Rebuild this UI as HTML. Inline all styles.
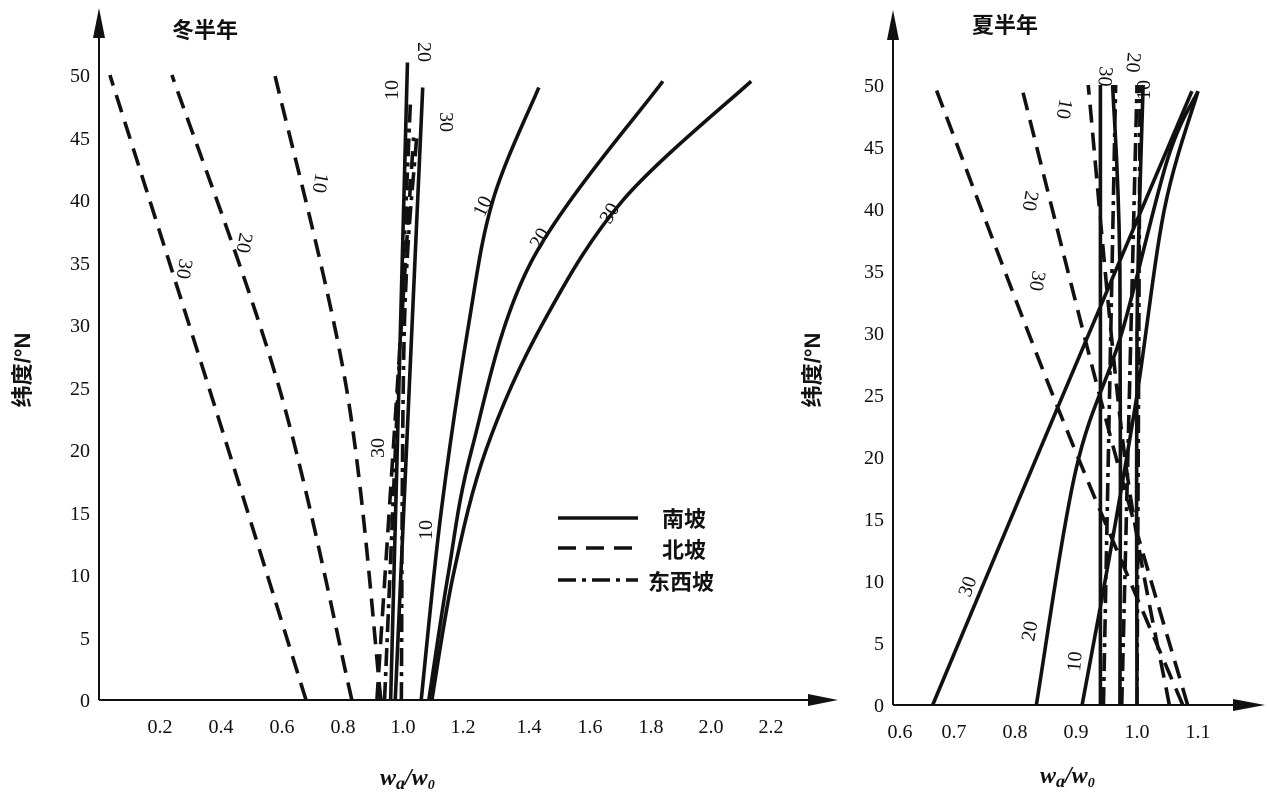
<!DOCTYPE html>
<html><head><meta charset="utf-8"><style>
body{margin:0;background:#fff}
svg{display:block}
text{font-family:"Liberation Serif","Noto Serif CJK SC",serif;fill:#111}
.t{font-size:20px}
.c{font-family:"Liberation Sans","Noto Sans CJK SC",sans-serif;font-weight:bold}
</style></head><body>
<svg id="s" width="1267" height="795" viewBox="0 0 1267 795" xmlns="http://www.w3.org/2000/svg">
<g id="g" fill="none" stroke="#111" stroke-width="3.6"></g>
<line x1="99" y1="700" x2="820" y2="700" stroke="#111" stroke-width="2"/>
<polygon points="838,700 808,694 808,706" fill="#111"/>
<line x1="99" y1="700" x2="99" y2="25" stroke="#111" stroke-width="2"/>
<polygon points="99,8 93,38 105,38" fill="#111"/>
<g class="t" text-anchor="end">
<text x="90" y="707">0</text><text x="90" y="645">5</text><text x="90" y="582">10</text><text x="90" y="520">15</text><text x="90" y="457">20</text><text x="90" y="395">25</text><text x="90" y="332">30</text><text x="90" y="270">35</text><text x="90" y="207">40</text><text x="90" y="145">45</text><text x="90" y="82">50</text>
</g>
<g class="t" text-anchor="middle">
<text x="160" y="733">0.2</text><text x="221" y="733">0.4</text><text x="282" y="733">0.6</text><text x="343" y="733">0.8</text><text x="403" y="733">1.0</text><text x="463" y="733">1.2</text><text x="529" y="733">1.4</text><text x="590" y="733">1.6</text><text x="651" y="733">1.8</text><text x="711" y="733">2.0</text><text x="771" y="733">2.2</text>
</g>
<text class="c" x="172" y="38" font-size="22">冬半年</text>
<text class="c" transform="translate(30,370) rotate(-90)" font-size="22" text-anchor="middle">纬度/°N</text>
<text x="380" y="785" font-size="24" font-style="italic" font-weight="bold">w<tspan font-size="18" dy="4">a</tspan><tspan dy="-4">/w</tspan><tspan font-size="14" dy="4">0</tspan></text>
<line x1="558" y1="518" x2="638" y2="518" stroke="#111" stroke-width="3.5"/>
<line x1="558" y1="548" x2="638" y2="548" stroke="#111" stroke-width="3.5" stroke-dasharray="18 10"/>
<line x1="558" y1="580" x2="638" y2="580" stroke="#111" stroke-width="3.5" stroke-dasharray="18 6 4 6"/>
<text class="c" x="662" y="527" font-size="22">南坡</text>
<text class="c" x="662" y="558" font-size="22">北坡</text>
<text class="c" x="648" y="590" font-size="22">东西坡</text>
<g class="t">
<text transform="translate(180,258) rotate(100)">30</text>
<text transform="translate(240,232) rotate(100)">20</text>
<text transform="translate(316,172) rotate(100)">10</text>
<text transform="translate(398,100) rotate(-90)">10</text>
<text transform="translate(418,42) rotate(90)">20</text>
<text transform="translate(440,112) rotate(90)">30</text>
<text transform="translate(484,218) rotate(-65)">10</text>
<text transform="translate(540,250) rotate(-60)">20</text>
<text transform="translate(610,225) rotate(-60)">30</text>
<text transform="translate(384,458) rotate(-90)">30</text>
<text transform="translate(432,540) rotate(-90)">10</text>
</g>
<line x1="893" y1="705" x2="1240" y2="705" stroke="#111" stroke-width="2"/>
<polygon points="1265,705 1233,699 1233,711" fill="#111"/>
<line x1="893" y1="705" x2="893" y2="30" stroke="#111" stroke-width="2"/>
<polygon points="893,10 887,40 899,40" fill="#111"/>
<g class="t" text-anchor="end">
<text x="884" y="712">0</text><text x="884" y="650">5</text><text x="884" y="588">10</text><text x="884" y="526">15</text><text x="884" y="464">20</text><text x="884" y="402">25</text><text x="884" y="340">30</text><text x="884" y="278">35</text><text x="884" y="216">40</text><text x="884" y="154">45</text><text x="884" y="92">50</text>
</g>
<g class="t" text-anchor="middle">
<text x="900" y="738">0.6</text><text x="954" y="738">0.7</text><text x="1015" y="738">0.8</text><text x="1076" y="738">0.9</text><text x="1137" y="738">1.0</text><text x="1198" y="738">1.1</text>
</g>
<text class="c" x="972" y="33" font-size="22">夏半年</text>
<text class="c" transform="translate(820,370) rotate(-90)" font-size="22" text-anchor="middle">纬度/°N</text>
<text x="1040" y="783" font-size="24" font-style="italic" font-weight="bold">w<tspan font-size="18" dy="4">a</tspan><tspan dy="-4">/w</tspan><tspan font-size="14" dy="4">0</tspan></text>
<g class="t">
<text transform="translate(970,598) rotate(-70)">30</text>
<text transform="translate(1034,642) rotate(-80)">20</text>
<text transform="translate(1080,672) rotate(-85)">10</text>
<text transform="translate(1060,98) rotate(100)">10</text>
<text transform="translate(1100,66) rotate(95)">30</text>
<text transform="translate(1128,52) rotate(95)">20</text>
<text transform="translate(1150,100) rotate(-90)">10</text>
<text transform="translate(1026,190) rotate(100)">20</text>
<text transform="translate(1033,270) rotate(100)">30</text>
</g>
</svg>
<script>
var g=document.getElementById('g');
function L(v){return 160+(v-0.2)*305.5} function LY(d){return 700-12.5*d}
function R(v){return 893+(v-0.6)*610} function RY(d){return 705-12.4*d}
function path(pts,fx,fy,dash){
 var p=pts.map(function(a){return [fx(a[0]),fy(a[1])]});
 var d='M'+p[0][0]+','+p[0][1];
 for(var i=0;i<p.length-1;i++){
  var p0=p[i-1]||p[i],p1=p[i],p2=p[i+1],p3=p[i+2]||p2;
  var c1=[p1[0]+(p2[0]-p0[0])/6,p1[1]+(p2[1]-p0[1])/6];
  var c2=[p2[0]-(p3[0]-p1[0])/6,p2[1]-(p3[1]-p1[1])/6];
  d+=' C'+c1+' '+c2+' '+p2;
 }
 var e=document.createElementNS('http://www.w3.org/2000/svg','path');
 e.setAttribute('d',d);
 if(dash)e.setAttribute('stroke-dasharray',dash);
 g.appendChild(e);
}
var N='18 10',E='18 6 4 6';
path([[0.678,0],[0.36,25],[0.036,50]],L,LY,N);
path([[0.828,0],[0.59,25],[0.239,50]],L,LY,N);
path([[0.923,0],[0.81,25],[0.576,50]],L,LY,N);
path([[1.055,0],[1.12,15],[1.21,30],[1.29,40],[1.44,49]],L,LY);
path([[1.08,0],[1.143,10],[1.22,20],[1.414,35],[1.846,49.5]],L,LY);
path([[1.09,0],[1.16,10],[1.267,20],[1.45,30],[1.716,40],[2.135,49.5]],L,LY);
path([[0.91,0],[1.03,45]],L,LY,N);
path([[0.935,0],[1.02,48]],L,LY,E);
path([[0.955,0],[1.01,51]],L,LY);
path([[0.97,0],[1.06,49]],L,LY);
path([[0.99,0],[1.0,30],[1.04,45]],L,LY,E);
path([[0.665,0],[0.87,24],[1.09,49.5]],R,RY);
path([[0.835,0],[0.9,19],[0.975,30],[1.05,44],[1.1,49.5]],R,RY);
path([[0.91,0],[0.955,12],[1.0,25],[1.045,40],[1.1,49.5]],R,RY);
path([[0.94,0],[0.94,50]],R,RY);
path([[0.972,0],[0.972,35],[0.96,50]],R,RY);
path([[1.0,0],[1.0,30],[1.01,50]],R,RY);
path([[1.075,0],[0.87,24],[0.668,50]],R,RY,N);
path([[1.083,0],[0.96,21],[0.81,50]],R,RY,N);
path([[1.053,0],[0.98,20],[0.92,50]],R,RY,N);
path([[0.945,0],[0.955,25],[0.965,50]],R,RY,E);
path([[0.975,0],[0.99,30],[1.0,50]],R,RY,E);
path([[1.0,0],[1.005,50]],R,RY,E);
</script>
</body></html>
